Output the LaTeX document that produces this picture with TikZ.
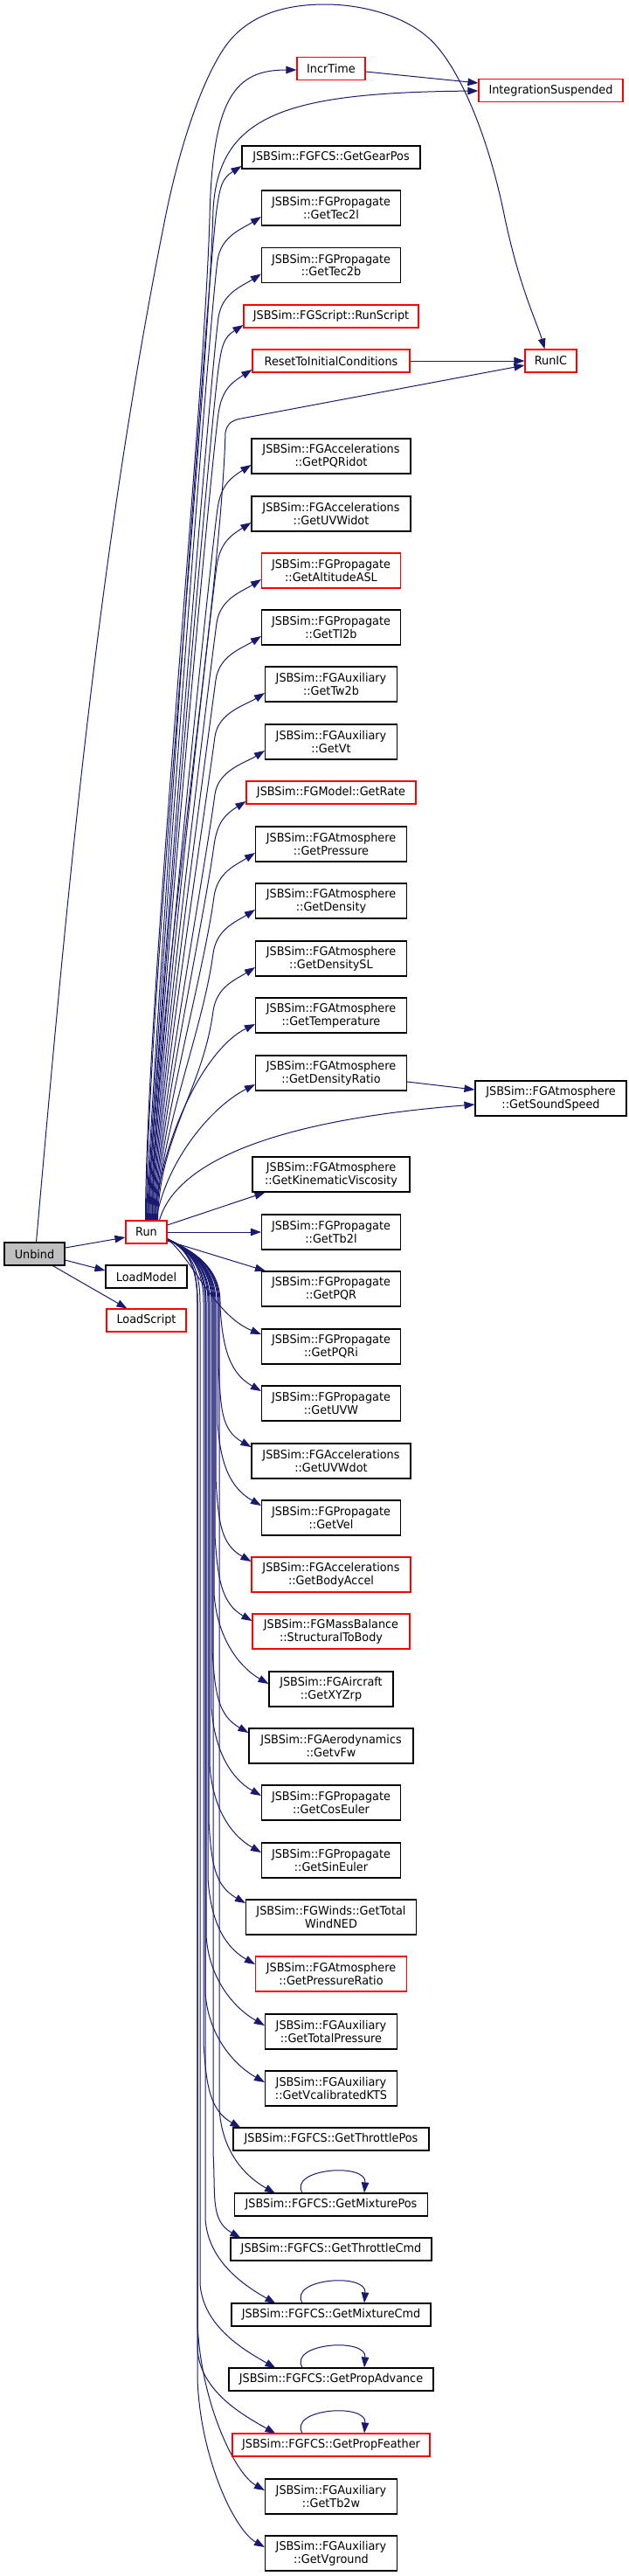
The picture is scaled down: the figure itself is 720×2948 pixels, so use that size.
\documentclass[tikz,border=0pt]{standalone}
\usepackage{fontspec}
\setmainfont{DejaVu Sans}[FakeStretch=0.95]
\usetikzlibrary{arrows.meta,calc}
\definecolor{edgecol}{HTML}{191970}
\definecolor{unbindfill}{HTML}{BFBFBF}
\pgfdeclarelayer{bg}
\pgfsetlayers{bg,main}
\begin{document}
\begin{tikzpicture}[x=1pt,y=-1pt,
  box/.style={draw=black,line width=1.1pt,fill=white,inner sep=0pt,align=center,font=\fontsize{13.5}{14.7}\selectfont},
  redbox/.style={box,draw=red},
  one/.style={minimum height=26pt},
  two/.style={minimum height=40pt},
  bw/.style={minimum width=#1pt},
  edge/.style={draw=edgecol,line width=1pt,-{Triangle[length=12pt,width=8.5pt]}}]
\useasboundingbox (0,0) rectangle (720,2948);

\node[redbox,one,bw=78] (incr) at (379,78.5) {IncrTime};
\node[redbox,one,bw=165] (intsusp) at (630.5,103.5) {IntegrationSuspended};
\node[box,one,bw=204] (gearpos) at (379,180) {JSBSim::FGFCS::GetGearPos};
\node[box,two,bw=159] (tec2l) at (379,238) {JSBSim::FGPropagate\\::GetTec2l};
\node[box,two,bw=159] (tec2b) at (379,303.5) {JSBSim::FGPropagate\\::GetTec2b};
\node[redbox,one,bw=200] (runscript) at (379,362) {JSBSim::FGScript::RunScript};
\node[redbox,one,bw=180] (reset) at (379,413) {ResetToInitialConditions};
\node[redbox,one,bw=59] (runic) at (630.5,413) {RunIC};
\node[box,two,bw=182] (pqridot) at (379,522) {JSBSim::FGAccelerations\\::GetPQRidot};
\node[box,two,bw=182] (uvwidot) at (379,588) {JSBSim::FGAccelerations\\::GetUVWidot};
\node[redbox,two,bw=159] (altasl) at (379,653) {JSBSim::FGPropagate\\::GetAltitudeASL};
\node[box,two,bw=159] (tl2b) at (379,718) {JSBSim::FGPropagate\\::GetTl2b};
\node[box,two,bw=151] (tw2b) at (379,783) {JSBSim::FGAuxiliary\\::GetTw2b};
\node[box,two,bw=151] (vt) at (379,849) {JSBSim::FGAuxiliary\\::GetVt};
\node[redbox,one,bw=194] (getrate) at (379,907) {JSBSim::FGModel::GetRate};
\node[box,two,bw=173] (pressure) at (379,966) {JSBSim::FGAtmosphere\\::GetPressure};
\node[box,two,bw=173] (density) at (379,1031) {JSBSim::FGAtmosphere\\::GetDensity};
\node[box,two,bw=173] (densitysl) at (379,1097) {JSBSim::FGAtmosphere\\::GetDensitySL};
\node[box,two,bw=173] (temperature) at (379,1162) {JSBSim::FGAtmosphere\\::GetTemperature};
\node[box,two,bw=173] (densratio) at (379,1228) {JSBSim::FGAtmosphere\\::GetDensityRatio};
\node[box,two,bw=173] (soundspeed) at (630.5,1257) {JSBSim::FGAtmosphere\\::GetSoundSpeed};
\node[box,two,bw=180] (kinvisc) at (379,1344) {JSBSim::FGAtmosphere\\::GetKinematicViscosity};
\node[redbox,one,bw=47] (run) at (167.5,1410) {Run};
\node[box,one,bw=69,fill=unbindfill] (unbind) at (39.5,1435) {Unbind};
\node[box,two,bw=159] (tb2l) at (379,1410) {JSBSim::FGPropagate\\::GetTb2l};
\node[box,one,bw=93] (loadmodel) at (167.5,1461) {LoadModel};
\node[redbox,one,bw=91] (loadscript) at (167.5,1511) {LoadScript};
\node[box,two,bw=159] (pqr) at (379,1475) {JSBSim::FGPropagate\\::GetPQR};
\node[box,two,bw=159] (pqri) at (379,1541) {JSBSim::FGPropagate\\::GetPQRi};
\node[box,two,bw=159] (uvw) at (379,1606) {JSBSim::FGPropagate\\::GetUVW};
\node[box,two,bw=182] (uvwdot) at (379,1672) {JSBSim::FGAccelerations\\::GetUVWdot};
\node[box,two,bw=159] (vel) at (379,1737) {JSBSim::FGPropagate\\::GetVel};
\node[redbox,two,bw=182] (bodyaccel) at (379,1802) {JSBSim::FGAccelerations\\::GetBodyAccel};
\node[redbox,two,bw=180] (s2b) at (379,1867) {JSBSim::FGMassBalance\\::StructuralToBody};
\node[box,two,bw=142] (xyzrp) at (379,1933) {JSBSim::FGAircraft\\::GetXYZrp};
\node[box,two,bw=188] (vfw) at (379,1998) {JSBSim::FGAerodynamics\\::GetvFw};
\node[box,two,bw=159] (coseuler) at (379,2063) {JSBSim::FGPropagate\\::GetCosEuler};
\node[box,two,bw=159] (sineuler) at (379,2129) {JSBSim::FGPropagate\\::GetSinEuler};
\node[box,two,bw=195] (windned) at (379,2194) {JSBSim::FGWinds::GetTotal\\WindNED};
\node[redbox,two,bw=173] (pressratio) at (379,2259) {JSBSim::FGAtmosphere\\::GetPressureRatio};
\node[box,two,bw=151] (totpress) at (379,2325) {JSBSim::FGAuxiliary\\::GetTotalPressure};
\node[box,two,bw=151] (vcas) at (379,2390) {JSBSim::FGAuxiliary\\::GetVcalibratedKTS};
\node[box,one,bw=224] (throtpos) at (379,2448) {JSBSim::FGFCS::GetThrottlePos};
\node[box,one,bw=221] (mixpos) at (379,2523) {JSBSim::FGFCS::GetMixturePos};
\node[box,one,bw=230] (throtcmd) at (379,2574) {JSBSim::FGFCS::GetThrottleCmd};
\node[box,one,bw=228] (mixcmd) at (379,2649) {JSBSim::FGFCS::GetMixtureCmd};
\node[box,one,bw=234] (propadv) at (379,2723) {JSBSim::FGFCS::GetPropAdvance};
\node[redbox,one,bw=226] (propfeather) at (379,2798) {JSBSim::FGFCS::GetPropFeather};
\node[box,two,bw=151] (tb2w) at (379,2857) {JSBSim::FGAuxiliary\\::GetTb2w};
\node[box,two,bw=151] (vground) at (379,2922) {JSBSim::FGAuxiliary\\::GetVground};

\begin{pgfonlayer}{bg}
% Unbind
\draw[edge] ($(unbind.east)+(0,-7)$) -- ($(run.west)+(0,6)$);
\draw[edge] ($(unbind.east)+(0,7)$) -- ($(loadmodel.west)+(0,-7)$);
\draw[edge] ($(unbind.south)+(21,0)$) -- ($(loadscript.north)+(-22,0)$);
\draw[edge] ($(unbind.north)+(2,0)$) .. controls (76,1032) and (111,640) .. (189,250)
  .. controls (206,165) and (232,90) .. (258,53)
  .. controls (285,15) and (330,5) .. (372,5)
  .. controls (414,5) and (470,18) .. (500,53)
  .. controls (530,88) and (560,160) .. (578,250)
  .. controls (595,330) and (615,370) .. ($(runic.north)+(-7,0)$);
% simple ones
\draw[edge] ($(incr.east)+(0,3.5)$) -- ($(intsusp.west)+(0,-8.5)$);
\draw[edge] (reset.east) -- (runic.west);
\draw[edge] ($(densratio.east)+(0,10)$) -- ($(soundspeed.west)+(0,-10)$);
\draw[edge] ($(run.east)+(0,-8)$) -- ($(kinvisc.south west)+(15,0)$);
\draw[edge] (run.east) -- (tb2l.west);
\draw[edge] ($(run.east)+(0,10)$) -- ($(pqr.north west)+(5,0)$);
% Run upward specials
\draw[edge] ($(run.north)+(-1,0)$) .. controls (167,1150) and (233,480) .. (240,250)
  .. controls (243,110) and (270,80) .. ($(incr.west)+(0,1.5)$);
\draw[edge] (run.north) .. controls (168,1150) and (237,470) .. (244,240)
  .. controls (250,130) and (330,106) .. ($(intsusp.west)+(0,0.5)$);
\draw[edge] ($(run.north)+(7,0)$) .. controls (176,1150) and (252,700) .. (258,495)
  .. controls (260,485) and (265,481) .. (276,479) -- ($(runic.west)+(0,5)$);
\draw[edge] ($(run.north)+(9,0)$) .. controls (185,1300) and (235,1200) .. ($(temperature.west)+(0,10)$);
\draw[edge] ($(run.north)+(11,0)$) .. controls (190,1330) and (240,1268) .. ($(densratio.west)+(0,13)$);
\draw[edge] ($(run.north)+(15,0)$) .. controls (200,1335) and (300,1283) .. ($(soundspeed.west)+(0,7)$);
% Run upward generic
\foreach \t/\ty/\mx/\sd in {gearpos/180/248/0, tec2l/238/249/1, tec2b/303.5/250/2,
    runscript/362/250/2, reset/413/250/3, pqridot/522/249/4, uvwidot/588/248/5,
    altasl/653/248/6, tl2b/718/247/7, tw2b/783/246/8, vt/849/246/9,
    getrate/907/245/10, pressure/966/245/11, density/1031/244/12, densitysl/1097/244/13}
  \draw[edge] ($(run.north)+(\sd,0)$) .. controls ($(run.north)+(\sd+2,-97)$) and (\mx-12,\ty+150)
    .. (\mx,\ty+60) .. controls (\mx+4,\ty+32) and ($(\t.west)+(-22,24)$) .. ($(\t.west)+(0,10)$);
% Run downward
\draw[edge] ($(run.east)+(0,8)$) .. controls (220,1440) and (245,1505) .. ($(pqri.west)+(0,-14)$);
\foreach \t/\ty/\mx/\ox/\oy/\bl in {uvw/1606/252/0/-14/110, uvwdot/1672/250/0/-16/110,
    vel/1737/249/0/-14/110, bodyaccel/1802/247/0/-15/110, s2b/1867/246/0/-12/110,
    xyzrp/1933/245/0/-6/110, vfw/1998/243/0/-15/110, coseuler/2063/242/0/-8/110,
    sineuler/2129/240/0/-9/110, windned/2194/239/0/-16/110, pressratio/2259/238/0/-11/110,
    totpress/2325/236/0/-7/110, vcas/2390/235/0/-7/110, throtpos/2448/233/9/-13/110,
    mixpos/2523/251/47/-13/110, throtcmd/2574/244/12/-13/110, mixcmd/2649/235/51/-13/110,
    propadv/2723/229/54/-13/110, propfeather/2798/226/50/-13/110,
    tb2w/2857/226/0/-7/200, vground/2922/226/0/-7/200}
  \draw[edge] ($(run.east)+(0,8)$) .. controls (212,1428) and (\mx,1445) .. (\mx,1490)
    -- (\mx,\ty-\bl) .. controls (\mx+3,\ty-0.55*\bl) and ($(\t.west)+(\ox-35,\oy-20)$)
    .. ($(\t.west)+(\ox,\oy)$);
% self loops
\foreach \t in {mixpos,mixcmd,propadv,propfeather}
  \draw[edge] ($(\t.north)+(-33,0)$) .. controls ($(\t.north)+(-49,-28)$) and ($(\t.north)+(41,-35)$) .. ($(\t.north)+(38,0)$);
\end{pgfonlayer}
\end{tikzpicture}
\end{document}
